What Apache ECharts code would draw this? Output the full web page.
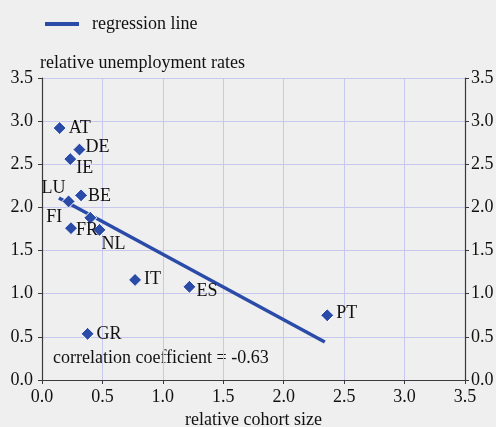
<!DOCTYPE html>
<html>
<head>
<meta charset="utf-8">
<script src="https://cdn.jsdelivr.net/npm/echarts@6/dist/echarts.min.js"></script>
<style>
html,body{margin:0;padding:0;background:#efefef;}
#chart{width:496px;height:427px;}
</style>
</head>
<body>
<div id="chart"></div>
<script>
// Data
var countries = ['AT','DE','IE','BE','LU','FI','FR','NL','IT','ES','PT','GR'];
var cohortSize = [0.146, 0.31, 0.234, 0.323, 0.22, 0.40, 0.24, 0.476, 0.77, 1.22, 2.36, 0.377];
var unemployment = [2.92, 2.67, 2.56, 2.14, 2.07, 1.88, 1.76, 1.74, 1.16, 1.08, 0.75, 0.535];
var regressionX = [0.14, 2.34];
var regressionY = [2.11, 0.44];
var axisTicks = [0, 0.5, 1.0, 1.5, 2.0, 2.5, 3.0, 3.5];
var correlationText = 'correlation coefficient = -0.63';

// label placement (style only): [align, dx, dy]
var labelPlacement = {
  AT: ['left', 9, 0], DE: ['left', 6, -2], IE: ['left', 6, 9], BE: ['left', 7, 1],
  LU: ['right', -3, -13], FI: ['right', -28, -1], FR: ['left', 5, 2], NL: ['left', 2, 14],
  IT: ['left', 9, -1], ES: ['left', 7, 4], PT: ['left', 9, -2], GR: ['left', 9, 0]
};

var FONT = '"Liberation Serif", "Times New Roman", serif';
var FS = 18;
var BLUE = '#2b4ba8';
var TXT = '#111';

var scatterData = countries.map(function (c, i) {
  var p = labelPlacement[c];
  return {
    name: c,
    value: [cohortSize[i], unemployment[i]],
    label: { align: p[0], offset: [p[1], p[2]] }
  };
});
var lineData = regressionX.map(function (x, i) { return [x, regressionY[i]]; });

var chart = echarts.init(document.getElementById('chart'), null, {renderer: 'canvas'});
var axisCommon = {
  type: 'value', min: 0, max: 3.5, interval: 0.5,
  axisLine: { show: true, lineStyle: { color: '#3a3a3a', width: 1.2 } },
  axisTick: { show: true, length: 4, lineStyle: { color: '#3a3a3a' } },
  axisLabel: { color: TXT, fontFamily: FONT, fontSize: FS, formatter: function (v) { return v.toFixed(1); } },
  splitLine: { show: true, lineStyle: { color: '#c8c8ee', width: 1 } }
};
chart.setOption({
  backgroundColor: '#efefef',
  animation: false,
  textStyle: { fontFamily: FONT },
  legend: {
    show: true, left: 40, top: 10,
    itemWidth: 34, itemHeight: 4, itemGap: 10,
    icon: 'rect',
    textStyle: { color: TXT, fontFamily: FONT, fontSize: FS, padding: [0, 0, 0, 8] },
    data: [{ name: 'regression line', itemStyle: { color: BLUE } }]
  },
  grid: { left: 42, right: 31, top: 78, bottom: 47, containLabel: false, outerBoundsMode: 'none' },
  xAxis: Object.assign({}, axisCommon, {
    name: 'relative cohort size', nameLocation: 'middle', nameGap: 28,
    nameTextStyle: { color: TXT, fontFamily: FONT, fontSize: FS },
    axisLabel: Object.assign({}, axisCommon.axisLabel, { margin: 8 })
  }),
  yAxis: [
    Object.assign({}, axisCommon, {
      position: 'left',
      name: 'relative unemployment rates', nameLocation: 'end', nameGap: 6,
      nameTextStyle: { color: TXT, fontFamily: FONT, fontSize: FS, align: 'left', padding: [0, 0, 0, -2] },
      axisLabel: Object.assign({}, axisCommon.axisLabel, { margin: 9 })
    }),
    Object.assign({}, axisCommon, {
      position: 'right',
      splitLine: { show: false },
      axisLabel: Object.assign({}, axisCommon.axisLabel, { margin: 6 })
    })
  ],
  graphic: [{
    type: 'text', left: 53, top: 349,
    style: { text: correlationText, fill: TXT, font: FS + 'px ' + FONT }
  }],
  series: [
    {
      name: 'regression line', type: 'line', data: lineData,
      showSymbol: false, symbol: 'none',
      lineStyle: { color: BLUE, width: 3.5 }, itemStyle: { color: BLUE },
      z: 2
    },
    {
      name: 'countries', type: 'scatter', data: scatterData,
      symbol: 'diamond', symbolSize: 13,
      itemStyle: { color: BLUE, borderColor: '#ffffff', borderWidth: 1, opacity: 1 },
      label: {
        show: true, position: 'inside', verticalAlign: 'middle',
        color: TXT, fontFamily: FONT, fontSize: FS,
        formatter: function (p) { return p.name; }
      },
      z: 3
    }
  ]
});
</script>
</body>
</html>
